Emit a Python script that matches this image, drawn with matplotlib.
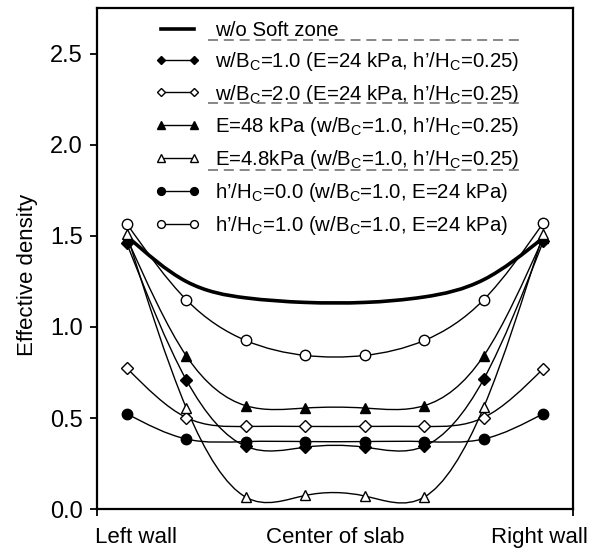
"""Effective density across the slab for different soft zone cases."""

import numpy as np
import matplotlib.pyplot as plt
from matplotlib.path import Path
from matplotlib.patches import PathPatch
from matplotlib.lines import Line2D

plt.rcParams['font.family'] = ['Liberation Sans', 'DejaVu Sans']
plt.rcParams['mathtext.fontset'] = 'custom'
plt.rcParams['mathtext.rm'] = 'Liberation Sans'

# positions across the slab (0 = left wall, 7 = right wall)
positions = np.arange(8)
no_soft = [1.50, 1.25, 1.16, 1.135, 1.135, 1.165, 1.26, 1.49]
wb_10 = [1.46, 0.71, 0.345, 0.34, 0.34, 0.345, 0.714, 1.47]
wb_20 = [0.775, 0.503, 0.454, 0.454, 0.454, 0.454, 0.503, 0.771]
e_48 = [1.49, 0.842, 0.568, 0.555, 0.555, 0.568, 0.842, 1.49]
e_48low = [1.51, 0.556, 0.066, 0.075, 0.072, 0.066, 0.56, 1.51]
h_00 = [0.524, 0.385, 0.371, 0.371, 0.371, 0.371, 0.385, 0.524]
h_10 = [1.567, 1.15, 0.926, 0.844, 0.844, 0.926, 1.15, 1.571]

labels = [
    'w/o Soft zone',
    r'w/B$_\mathregular{C}$=1.0 (E=24 kPa, h’/H$_\mathregular{C}$=0.25)',
    r'w/B$_\mathregular{C}$=2.0 (E=24 kPa, h’/H$_\mathregular{C}$=0.25)',
    r'E=48 kPa (w/B$_\mathregular{C}$=1.0, h’/H$_\mathregular{C}$=0.25)',
    r'E=4.8kPa (w/B$_\mathregular{C}$=1.0, h’/H$_\mathregular{C}$=0.25)',
    r'h’/H$_\mathregular{C}$=0.0 (w/B$_\mathregular{C}$=1.0, E=24 kPa)',
    r'h’/H$_\mathregular{C}$=1.0 (w/B$_\mathregular{C}$=1.0, E=24 kPa)',
]
tick_labels = ['Left wall', 'Center of slab', 'Right wall']


def spline_path(x, y):
    """Natural cubic spline through the points, as bezier segments."""
    x = np.asarray(x, float)
    y = np.asarray(y, float)
    n = len(x)
    h = np.diff(x)
    # second derivatives (natural ends)
    A = np.zeros((n, n))
    r = np.zeros(n)
    A[0, 0] = A[-1, -1] = 1
    for k in range(1, n - 1):
        A[k, k - 1] = h[k - 1]
        A[k, k] = 2 * (h[k - 1] + h[k])
        A[k, k + 1] = h[k]
        r[k] = 6 * ((y[k + 1] - y[k]) / h[k] - (y[k] - y[k - 1]) / h[k - 1])
    M = np.linalg.solve(A, r)
    slope = np.zeros(n)
    for k in range(n - 1):
        slope[k] = (y[k + 1] - y[k]) / h[k] - h[k] * (2 * M[k] + M[k + 1]) / 6
    slope[-1] = (y[-1] - y[-2]) / h[-1] + h[-1] * (M[-2] + 2 * M[-1]) / 6
    verts = [(x[0], y[0])]
    codes = [Path.MOVETO]
    for k in range(n - 1):
        verts += [(x[k] + h[k] / 3, y[k] + h[k] * slope[k] / 3),
                  (x[k + 1] - h[k] / 3, y[k + 1] - h[k] * slope[k + 1] / 3),
                  (x[k + 1], y[k + 1])]
        codes += [Path.CURVE4] * 3
    return Path(verts, codes)


fig = plt.figure(figsize=(5.95, 5.51), dpi=100)
ax = fig.add_axes([0.163, 0.076, 0.8, 0.909])

series = [
    (no_soft, None, None, 2.6),
    (wb_10, 'D', 'k', 1.0),
    (wb_20, 'D', 'w', 1.0),
    (e_48, '^', 'k', 1.0),
    (e_48low, '^', 'w', 1.0),
    (h_00, 'o', 'k', 1.0),
    (h_10, 'o', 'w', 1.0),
]
sizes = {'D': 6, '^': 7, 'o': 7.5}

handles = []
for (vals, mk, fc, lw), lab in zip(series, labels):
    ax.add_patch(PathPatch(spline_path(positions, vals), fill=False,
                           edgecolor='k', lw=lw, zorder=2))
    if mk is not None:
        ax.plot(positions, vals, ls='none', marker=mk, ms=sizes[mk],
                mfc=fc, mec='k', mew=1.0, zorder=3)
        handles.append(Line2D([], [], color='k', lw=lw, marker=mk,
                              ms=sizes[mk], mfc=fc, mec='k', mew=1.0,
                              label=lab))
    else:
        handles.append(Line2D([], [], color='k', lw=lw, label=lab))

ax.set_xlim(-0.5, 7.5)
ax.set_ylim(0, 2.75)
ax.set_yticks(np.arange(0, 2.6, 0.5))
ax.yaxis.set_major_formatter(plt.FormatStrFormatter('%.1f'))
ax.set_ylabel('Effective density', fontsize=16)
ax.yaxis.set_label_coords(-0.124, 0.467)

# labels sit over the walls, tick marks on the frame ends / centre
ax.set_xticks([0.16, 3.5, 6.94])
ax.set_xticklabels(tick_labels)
ax.set_xticks([-0.5, 3.5, 7.5], minor=True)
ax.tick_params(axis='x', which='major', length=0, pad=13, labelsize=16)
ax.tick_params(axis='x', which='minor', length=5, width=1.3, direction='out')
ax.tick_params(axis='y', length=5, width=1.3, direction='out', pad=5,
               labelsize=17)
for sp in ax.spines.values():
    sp.set_linewidth(1.6)

ax.legend(handles=handles, loc='upper left', bbox_to_anchor=(0.122, 0.975),
          frameon=False, fontsize=14.7, numpoints=2, markerscale=0.75,
          handlelength=2.2, handletextpad=0.72, labelspacing=0.485,
          borderpad=0, borderaxespad=0)

# faint dashed rules under some legend rows (as in the scanned figure)
for yf in [0.927, 0.813, 0.691]:
    fig.add_artist(Line2D([0.350, 0.877], [yf, yf], color='0.45', lw=1.2,
                          ls=(0, (6, 3.5))))

plt.savefig('out.png', dpi=100)
